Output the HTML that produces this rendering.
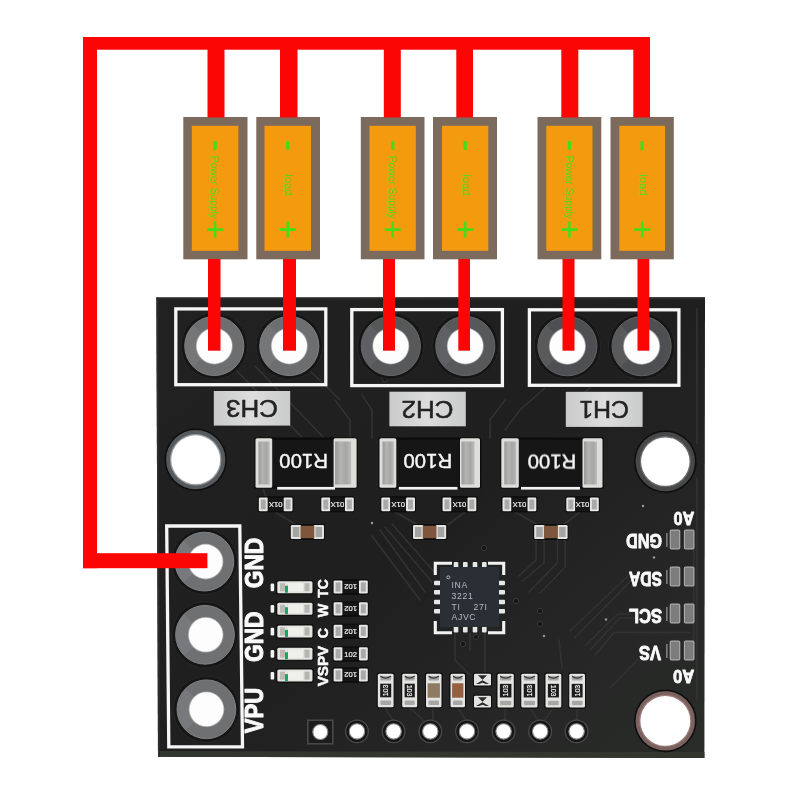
<!DOCTYPE html>
<html lang="en"><head><meta charset="utf-8"><title>INA3221 wiring diagram</title>
<style>html,body{margin:0;padding:0;background:#fff;}body{width:800px;height:800px;overflow:hidden;font-family:"Liberation Sans",sans-serif;}</style>
</head><body>
<svg width="800" height="800" viewBox="0 0 800 800" style="display:block">
<defs>
<linearGradient id="metal" x1="0" y1="0" x2="1" y2="0">
<stop offset="0" stop-color="#9a9a98"/><stop offset="0.35" stop-color="#b4b4b2"/><stop offset="0.7" stop-color="#a6a6a4"/><stop offset="1" stop-color="#bdbdbb"/>
</linearGradient>
<linearGradient id="boardg" x1="0" y1="0" x2="1" y2="1">
<stop offset="0" stop-color="#212121"/><stop offset="0.5" stop-color="#1f1f1f"/><stop offset="1" stop-color="#2a2c2a"/>
</linearGradient>
<linearGradient id="ring" x1="0" y1="0" x2="1" y2="1">
<stop offset="0" stop-color="#6a6c6e"/><stop offset="0.5" stop-color="#737577"/><stop offset="1" stop-color="#66686a"/>
</linearGradient>
<linearGradient id="lab" x1="0" y1="0" x2="1" y2="0">
<stop offset="0" stop-color="#c9cbca"/><stop offset="0.5" stop-color="#dcdddc"/><stop offset="1" stop-color="#cacccb"/>
</linearGradient>
<filter id="soft" x="-5%" y="-5%" width="110%" height="110%"><feGaussianBlur stdDeviation="0.45"/></filter>
<filter id="soft2" x="-5%" y="-5%" width="110%" height="110%"><feGaussianBlur stdDeviation="0.3"/></filter>
</defs>
<rect width="800" height="800" fill="#ffffff"/>
<g id="board">
<path d="M156.4 297.5 L705 297.2 L704.4 758 L158 756.8 Z" fill="url(#boardg)"/>
<path d="M158 751 L704.4 752 L704.4 758 L158 756.8 Z" fill="#33352f"/>
<rect x="156.5" y="297.5" width="548.5" height="2" fill="#2a2a2a"/>
<path d="M156.4 297.5 L158 756.8 L160 756.8 L158.4 297.5 Z" fill="#2c2c2c"/>
</g>
<g id="traces" fill="none" stroke="#323232" stroke-width="1.6" stroke-linecap="round" filter="url(#soft)">
<path d="M232 366 L330 466"/>
<path d="M255 366 L345 460"/>
<path d="M305 366 L340 400"/>
<path d="M335 400 L350 420 L350 438"/>
<path d="M362 395 L372 410 L372 438"/>
<path d="M505 400 L490 420 L490 438"/>
<path d="M545 388 L520 410 L505 430"/>
<path d="M590 388 L575 400"/>
<path d="M697 309 L697 443"/>
<path d="M697 478 L697 700"/>
<path d="M380 530 L425 592"/>
<path d="M385 527 L432 582"/>
<path d="M392 524 L436 574"/>
<path d="M372 536 L420 600"/>
<path d="M536 540 L536 560 L519 576"/>
<path d="M544 540 L544 563 L522.5 581"/>
<path d="M557.5 540 L557.5 562.5 L529 592"/>
<path d="M565 540 L565 567.5 L540 593"/>
<path d="M515 512 L540 526"/>
<path d="M580 512 L562 526"/>
<path d="M395 512 L420 526"/>
<path d="M465 512 L446 526"/>
<path d="M275 512 L298 526"/>
<path d="M263 488 L266 498"/>
<path d="M630 574 L570 631"/>
<path d="M632.5 579 L575 637.5"/>
<path d="M630 614 L617.5 614 L586 645"/>
<path d="M634 618 L620 618 L590 650"/>
<path d="M690 632.5 L614 632.5 L595 655"/>
<path d="M637.5 660 L610 688"/>
<path d="M455 634 L455 660 L470 675"/>
<path d="M470 634 L470 650"/>
<path d="M485 634 L485 672"/>
<path d="M385 708 L393 720"/>
<path d="M410 708 L425 722"/>
<path d="M433 708 L433 720"/>
<path d="M458 708 L466 720"/>
<path d="M505 708 L505 720"/>
<path d="M530 708 L538 720"/>
<path d="M553 708 L545 720"/>
<path d="M577 708 L577 720"/>
<path d="M694 550 L694 567"/>
<path d="M694 586 L694 604"/>
<path d="M694 623 L694 641"/>
<path d="M559 640 L562 668"/>
</g>
<g id="vias" filter="url(#soft2)">
<circle cx="484" cy="548" r="2.6" fill="#151515" stroke="#3a3a3a" stroke-width="1"/>
<circle cx="516" cy="601" r="2.6" fill="#151515" stroke="#3a3a3a" stroke-width="1"/>
<circle cx="540" cy="611" r="2.6" fill="#151515" stroke="#3a3a3a" stroke-width="1"/>
<circle cx="540" cy="624" r="2.6" fill="#151515" stroke="#3a3a3a" stroke-width="1"/>
<circle cx="463" cy="644" r="2.6" fill="#151515" stroke="#3a3a3a" stroke-width="1"/>
<circle cx="476" cy="637" r="2.6" fill="#151515" stroke="#3a3a3a" stroke-width="1"/>
<circle cx="385" cy="379.5" r="2.6" fill="#151515" stroke="#3a3a3a" stroke-width="1"/>
<circle cx="643" cy="506" r="1.2" fill="#9a9a9a"/>
<circle cx="654" cy="557.5" r="1.2" fill="#9a9a9a"/>
<circle cx="606" cy="619.5" r="1.2" fill="#9a9a9a"/>
<circle cx="544" cy="636" r="1.2" fill="#9a9a9a"/>
<circle cx="372" cy="523" r="1.2" fill="#9a9a9a"/>
</g>
<g id="outlines" fill="none" stroke="#f6f6f6" stroke-width="3.3" filter="url(#soft2)">
<rect x="175.8" y="308.9" width="150" height="75.8"/>
<rect x="351.8" y="309.6" width="150.6" height="76"/>
<rect x="529.4" y="309.8" width="149.5" height="75.5"/>
<path d="M166.7 526 L239.8 526 L242.5 746.9 L168.8 746.9 Z"/>
</g>
<g id="pads" filter="url(#soft2)">
<circle cx="214.3" cy="346" r="33.2" fill="#141414" stroke="#2b2b2b" stroke-width="0.8"/>
<circle cx="214.3" cy="346" r="29.6" fill="#6c6e70" stroke="#85878a" stroke-width="0.9"/>
<path d="M193.58 366.72 A29.6 29.6 0 0 1 193.58 325.28 L214.3 346 Z" fill="#77797b" opacity="0.7"/>
<circle cx="214.3" cy="346" r="18.5" fill="#a9abad"/>
<circle cx="214.3" cy="346" r="17.7" fill="#fdfdfd"/>
<circle cx="289.3" cy="346" r="33.2" fill="#141414" stroke="#2b2b2b" stroke-width="0.8"/>
<circle cx="289.3" cy="346" r="29.6" fill="#6c6e70" stroke="#85878a" stroke-width="0.9"/>
<path d="M268.58000000000004 366.72 A29.6 29.6 0 0 1 268.58000000000004 325.28 L289.3 346 Z" fill="#77797b" opacity="0.7"/>
<circle cx="289.3" cy="346" r="18.5" fill="#a9abad"/>
<circle cx="289.3" cy="346" r="17.7" fill="#fdfdfd"/>
<circle cx="390.8" cy="346" r="33.2" fill="#141414" stroke="#2b2b2b" stroke-width="0.8"/>
<circle cx="390.8" cy="346" r="29.6" fill="#56585a" stroke="#6c6e70" stroke-width="0.9"/>
<path d="M370.08000000000004 366.72 A29.6 29.6 0 0 1 370.08000000000004 325.28 L390.8 346 Z" fill="#626466" opacity="0.7"/>
<circle cx="390.8" cy="346" r="18.5" fill="#a9abad"/>
<circle cx="390.8" cy="346" r="17.7" fill="#fdfdfd"/>
<circle cx="465.3" cy="346" r="33.2" fill="#141414" stroke="#2b2b2b" stroke-width="0.8"/>
<circle cx="465.3" cy="346" r="29.6" fill="#56585a" stroke="#6c6e70" stroke-width="0.9"/>
<path d="M444.58000000000004 366.72 A29.6 29.6 0 0 1 444.58000000000004 325.28 L465.3 346 Z" fill="#626466" opacity="0.7"/>
<circle cx="465.3" cy="346" r="18.5" fill="#a9abad"/>
<circle cx="465.3" cy="346" r="17.7" fill="#fdfdfd"/>
<circle cx="567.4" cy="346.2" r="33.2" fill="#141414" stroke="#2b2b2b" stroke-width="0.8"/>
<circle cx="567.4" cy="346.2" r="29.6" fill="#4e5052" stroke="#666869" stroke-width="0.9"/>
<path d="M546.68 366.91999999999996 A29.6 29.6 0 0 1 546.68 325.48 L567.4 346.2 Z" fill="#5c5e60" opacity="0.7"/>
<circle cx="567.4" cy="346.2" r="18.5" fill="#a9abad"/>
<circle cx="567.4" cy="346.2" r="17.7" fill="#fdfdfd"/>
<circle cx="641.6" cy="346.2" r="33.2" fill="#141414" stroke="#2b2b2b" stroke-width="0.8"/>
<circle cx="641.6" cy="346.2" r="29.6" fill="#4e5052" stroke="#666869" stroke-width="0.9"/>
<path d="M620.88 366.91999999999996 A29.6 29.6 0 0 1 620.88 325.48 L641.6 346.2 Z" fill="#5c5e60" opacity="0.7"/>
<circle cx="641.6" cy="346.2" r="18.5" fill="#a9abad"/>
<circle cx="641.6" cy="346.2" r="17.7" fill="#fdfdfd"/>
<circle cx="204.4" cy="561.6" r="33.0" fill="#141414" stroke="#2b2b2b" stroke-width="0.8"/>
<circle cx="204.4" cy="561.6" r="29.4" fill="#6e7072" stroke="#85878a" stroke-width="0.9"/>
<path d="M183.82 582.1800000000001 A29.4 29.4 0 0 1 183.82 541.02 L204.4 561.6 Z" fill="#7b7d7f" opacity="0.7"/>
<circle cx="205.6" cy="561.6" r="17.8" fill="#a9abad"/>
<circle cx="205.6" cy="561.6" r="17" fill="#fdfdfd"/>
<circle cx="205" cy="634.8" r="33.0" fill="#141414" stroke="#2b2b2b" stroke-width="0.8"/>
<circle cx="205" cy="634.8" r="29.4" fill="#6e7072" stroke="#85878a" stroke-width="0.9"/>
<path d="M184.42000000000002 655.38 A29.4 29.4 0 0 1 184.42000000000002 614.2199999999999 L205 634.8 Z" fill="#7b7d7f" opacity="0.7"/>
<circle cx="205.7" cy="634.8" r="17.8" fill="#a9abad"/>
<circle cx="205.7" cy="634.8" r="17" fill="#fdfdfd"/>
<circle cx="206.4" cy="709.3" r="33.0" fill="#141414" stroke="#2b2b2b" stroke-width="0.8"/>
<circle cx="206.4" cy="709.3" r="29.4" fill="#6e7072" stroke="#85878a" stroke-width="0.9"/>
<path d="M185.82 729.88 A29.4 29.4 0 0 1 185.82 688.7199999999999 L206.4 709.3 Z" fill="#7b7d7f" opacity="0.7"/>
<circle cx="206.5" cy="709.3" r="17.8" fill="#a9abad"/>
<circle cx="206.5" cy="709.3" r="17" fill="#fdfdfd"/>
</g>
<g id="mholes" filter="url(#soft2)">
<circle cx="195.7" cy="459.7" r="31.200000000000003" fill="#111111"/>
<circle cx="195.7" cy="459.7" r="29.6" fill="#565a5d"/>
<circle cx="195.7" cy="459.7" r="25.7" fill="#9a9da0"/>
<circle cx="195.7" cy="459.7" r="24.4" fill="#ffffff"/>
<circle cx="665.3" cy="461.6" r="31.3" fill="#111111"/>
<circle cx="665.3" cy="461.6" r="29.7" fill="#46484a"/>
<circle cx="665.3" cy="461.6" r="25.5" fill="#6c6e70"/>
<circle cx="665.3" cy="461.6" r="24.2" fill="#ffffff"/>
<circle cx="665.3" cy="720.9" r="31.3" fill="#111111"/>
<circle cx="665.3" cy="720.9" r="29.7" fill="#7b625e"/>
<circle cx="665.3" cy="720.9" r="26.2" fill="#9a7c78"/>
<circle cx="665.3" cy="720.9" r="24.9" fill="#ffffff"/>
</g>
<g id="chlabels" font-family="'Liberation Sans', sans-serif" font-size="23.6" fill="#222222" text-anchor="middle" filter="url(#soft2)">
<rect x="213.8" y="391" width="76.39999999999998" height="34.60000000000002" fill="url(#lab)"/>
<text transform="translate(252.0 408.3) rotate(180)" x="0" y="8.45" textLength="52" lengthAdjust="spacingAndGlyphs" stroke="#222222" stroke-width="0.5">CH3</text>
<rect x="389.4" y="391.7" width="76.40000000000003" height="34.60000000000002" fill="url(#lab)"/>
<text transform="translate(427.6 409.0) rotate(180)" x="0" y="8.45" textLength="52" lengthAdjust="spacingAndGlyphs" stroke="#222222" stroke-width="0.5">CH2</text>
<rect x="565.8" y="391.8" width="76.80000000000007" height="35.099999999999966" fill="url(#lab)"/>
<text transform="translate(604.2 409.35) rotate(180)" x="0" y="8.45" textLength="49.6" lengthAdjust="spacingAndGlyphs" stroke="#222222" stroke-width="0.5">CH1</text>
</g>
<g id="r100" filter="url(#soft2)">
<rect x="254.3" y="437.2" width="103.50000000000003" height="51.6" rx="2" fill="#0e0e0e"/>
<rect x="271.2" y="440" width="63.400000000000034" height="45.6" fill="#181818"/>
<rect x="255.5" y="438.2" width="16.69999999999999" height="49.6" rx="1.6" fill="#dededb"/>
<rect x="258.5" y="441.5" width="11.199999999999989" height="43" fill="url(#metal)"/>
<rect x="333.6" y="438.2" width="23.0" height="49.6" rx="1.6" fill="#dededb"/>
<rect x="335.1" y="441.5" width="16.0" height="43" fill="url(#metal)"/>
<rect x="277.2" y="486.9" width="57.80000000000001" height="2.7" fill="#f4f4f4"/>
<text transform="translate(303.6 461.3) rotate(180)" x="0" y="7.6" text-anchor="middle" font-family="'Liberation Sans', sans-serif" font-size="20.4" fill="#f6f6f6" stroke="#f6f6f6" stroke-width="0.4">R100</text>
<rect x="378.3" y="437.2" width="102.9" height="51.6" rx="2" fill="#0e0e0e"/>
<rect x="395.3" y="440" width="65.69999999999999" height="45.6" fill="#181818"/>
<rect x="379.5" y="438.2" width="16.80000000000001" height="49.6" rx="1.6" fill="#dededb"/>
<rect x="382.5" y="441.5" width="11.300000000000011" height="43" fill="url(#metal)"/>
<rect x="460" y="438.2" width="20" height="49.6" rx="1.6" fill="#dededb"/>
<rect x="461.5" y="441.5" width="13" height="43" fill="url(#metal)"/>
<rect x="398.8" y="486.9" width="58.69999999999999" height="2.7" fill="#f4f4f4"/>
<text transform="translate(427.8 461.5) rotate(180)" x="0" y="7.6" text-anchor="middle" font-family="'Liberation Sans', sans-serif" font-size="20.4" fill="#f6f6f6" stroke="#f6f6f6" stroke-width="0.4">R100</text>
<rect x="500.1" y="437.2" width="103.6" height="51.6" rx="2" fill="#0e0e0e"/>
<rect x="517.8" y="440" width="65.70000000000005" height="45.6" fill="#181818"/>
<rect x="501.3" y="438.2" width="17.499999999999943" height="49.6" rx="1.6" fill="#dededb"/>
<rect x="504.3" y="441.5" width="11.999999999999943" height="43" fill="url(#metal)"/>
<rect x="582.5" y="438.2" width="20.0" height="49.6" rx="1.6" fill="#dededb"/>
<rect x="584.0" y="441.5" width="13.0" height="43" fill="url(#metal)"/>
<rect x="521" y="486.9" width="59" height="2.7" fill="#f4f4f4"/>
<text transform="translate(552 462.6) rotate(180)" x="0" y="7.6" text-anchor="middle" font-family="'Liberation Sans', sans-serif" font-size="20.4" fill="#f6f6f6" stroke="#f6f6f6" stroke-width="0.4">R100</text>
</g>
<g id="smallres" filter="url(#soft2)">
<rect x="257.8" y="496.5" width="35.69999999999999" height="15.800000000000011" rx="1.5" fill="#0c0c0c"/>
<rect x="258.8" y="497.5" width="9" height="13.800000000000011" rx="1.3" fill="#e6e6e4"/>
<rect x="260.8" y="499.5" width="5" height="9.800000000000011" fill="#a9a9a7"/>
<rect x="283.5" y="497.5" width="9" height="13.800000000000011" rx="1.3" fill="#e6e6e4"/>
<rect x="285.5" y="499.5" width="5" height="9.800000000000011" fill="#a9a9a7"/>
<rect x="267.8" y="498.3" width="15.699999999999989" height="12.200000000000012" fill="#191919"/>
<text transform="translate(275.65 504.4) rotate(180)" x="0" y="2.7359999999999998" text-anchor="middle" font-family="'Liberation Sans', sans-serif" font-size="7.6" fill="#f0f0f0" stroke="#f0f0f0" stroke-width="0.2">01X</text>
<rect x="320.3" y="496.5" width="34.5" height="15.800000000000011" rx="1.5" fill="#0c0c0c"/>
<rect x="321.3" y="497.5" width="9" height="13.800000000000011" rx="1.3" fill="#e6e6e4"/>
<rect x="323.3" y="499.5" width="5" height="9.800000000000011" fill="#a9a9a7"/>
<rect x="344.8" y="497.5" width="9" height="13.800000000000011" rx="1.3" fill="#e6e6e4"/>
<rect x="346.8" y="499.5" width="5" height="9.800000000000011" fill="#a9a9a7"/>
<rect x="330.3" y="498.3" width="14.5" height="12.200000000000012" fill="#191919"/>
<text transform="translate(337.55 504.4) rotate(180)" x="0" y="2.7359999999999998" text-anchor="middle" font-family="'Liberation Sans', sans-serif" font-size="7.6" fill="#f0f0f0" stroke="#f0f0f0" stroke-width="0.2">01X</text>
<rect x="380.3" y="496.5" width="35.69999999999999" height="15.800000000000011" rx="1.5" fill="#0c0c0c"/>
<rect x="381.3" y="497.5" width="9" height="13.800000000000011" rx="1.3" fill="#e6e6e4"/>
<rect x="383.3" y="499.5" width="5" height="9.800000000000011" fill="#a9a9a7"/>
<rect x="406" y="497.5" width="9" height="13.800000000000011" rx="1.3" fill="#e6e6e4"/>
<rect x="408" y="499.5" width="5" height="9.800000000000011" fill="#a9a9a7"/>
<rect x="390.3" y="498.3" width="15.699999999999989" height="12.200000000000012" fill="#191919"/>
<text transform="translate(398.15 504.4) rotate(180)" x="0" y="2.7359999999999998" text-anchor="middle" font-family="'Liberation Sans', sans-serif" font-size="7.6" fill="#f0f0f0" stroke="#f0f0f0" stroke-width="0.2">01X</text>
<rect x="441.5" y="496.5" width="35.80000000000001" height="15.800000000000011" rx="1.5" fill="#0c0c0c"/>
<rect x="442.5" y="497.5" width="9" height="13.800000000000011" rx="1.3" fill="#e6e6e4"/>
<rect x="444.5" y="499.5" width="5" height="9.800000000000011" fill="#a9a9a7"/>
<rect x="467.3" y="497.5" width="9" height="13.800000000000011" rx="1.3" fill="#e6e6e4"/>
<rect x="469.3" y="499.5" width="5" height="9.800000000000011" fill="#a9a9a7"/>
<rect x="451.5" y="498.3" width="15.800000000000011" height="12.200000000000012" fill="#191919"/>
<text transform="translate(459.4 504.4) rotate(180)" x="0" y="2.7359999999999998" text-anchor="middle" font-family="'Liberation Sans', sans-serif" font-size="7.6" fill="#f0f0f0" stroke="#f0f0f0" stroke-width="0.2">01X</text>
<rect x="501.5" y="496.5" width="35.799999999999955" height="15.800000000000011" rx="1.5" fill="#0c0c0c"/>
<rect x="502.5" y="497.5" width="9" height="13.800000000000011" rx="1.3" fill="#e6e6e4"/>
<rect x="504.5" y="499.5" width="5" height="9.800000000000011" fill="#a9a9a7"/>
<rect x="527.3" y="497.5" width="9" height="13.800000000000011" rx="1.3" fill="#e6e6e4"/>
<rect x="529.3" y="499.5" width="5" height="9.800000000000011" fill="#a9a9a7"/>
<rect x="511.5" y="498.3" width="15.799999999999955" height="12.200000000000012" fill="#191919"/>
<text transform="translate(519.4 504.4) rotate(180)" x="0" y="2.7359999999999998" text-anchor="middle" font-family="'Liberation Sans', sans-serif" font-size="7.6" fill="#f0f0f0" stroke="#f0f0f0" stroke-width="0.2">01X</text>
<rect x="565.3" y="496.5" width="34.5" height="15.800000000000011" rx="1.5" fill="#0c0c0c"/>
<rect x="566.3" y="497.5" width="9" height="13.800000000000011" rx="1.3" fill="#e6e6e4"/>
<rect x="568.3" y="499.5" width="5" height="9.800000000000011" fill="#a9a9a7"/>
<rect x="589.8" y="497.5" width="9" height="13.800000000000011" rx="1.3" fill="#e6e6e4"/>
<rect x="591.8" y="499.5" width="5" height="9.800000000000011" fill="#a9a9a7"/>
<rect x="575.3" y="498.3" width="14.5" height="12.200000000000012" fill="#191919"/>
<text transform="translate(582.55 504.4) rotate(180)" x="0" y="2.7359999999999998" text-anchor="middle" font-family="'Liberation Sans', sans-serif" font-size="7.6" fill="#f0f0f0" stroke="#f0f0f0" stroke-width="0.2">01X</text>
<rect x="332.6" y="579.4" width="36.19999999999999" height="15.200000000000045" rx="1.5" fill="#0c0c0c"/>
<rect x="333.6" y="580.4" width="9" height="13.200000000000045" rx="1.3" fill="#e6e6e4"/>
<rect x="335.6" y="582.4" width="5" height="9.200000000000045" fill="#a9a9a7"/>
<rect x="358.8" y="580.4" width="9" height="13.200000000000045" rx="1.3" fill="#e6e6e4"/>
<rect x="360.8" y="582.4" width="5" height="9.200000000000045" fill="#a9a9a7"/>
<rect x="342.6" y="581.1999999999999" width="16.19999999999999" height="11.600000000000046" fill="#191919"/>
<text transform="translate(350.70000000000005 587.0) rotate(180)" x="0" y="2.7359999999999998" text-anchor="middle" font-family="'Liberation Sans', sans-serif" font-size="7.6" fill="#f0f0f0" stroke="#f0f0f0" stroke-width="0.2">102</text>
<rect x="332.6" y="601.1999999999999" width="36.19999999999999" height="15.200000000000045" rx="1.5" fill="#0c0c0c"/>
<rect x="333.6" y="602.1999999999999" width="9" height="13.200000000000045" rx="1.3" fill="#e6e6e4"/>
<rect x="335.6" y="604.1999999999999" width="5" height="9.200000000000045" fill="#a9a9a7"/>
<rect x="358.8" y="602.1999999999999" width="9" height="13.200000000000045" rx="1.3" fill="#e6e6e4"/>
<rect x="360.8" y="604.1999999999999" width="5" height="9.200000000000045" fill="#a9a9a7"/>
<rect x="342.6" y="602.9999999999999" width="16.19999999999999" height="11.600000000000046" fill="#191919"/>
<text transform="translate(350.70000000000005 608.8) rotate(180)" x="0" y="2.7359999999999998" text-anchor="middle" font-family="'Liberation Sans', sans-serif" font-size="7.6" fill="#f0f0f0" stroke="#f0f0f0" stroke-width="0.2">102</text>
<rect x="332.6" y="623.6999999999999" width="36.19999999999999" height="15.200000000000045" rx="1.5" fill="#0c0c0c"/>
<rect x="333.6" y="624.6999999999999" width="9" height="13.200000000000045" rx="1.3" fill="#e6e6e4"/>
<rect x="335.6" y="626.6999999999999" width="5" height="9.200000000000045" fill="#a9a9a7"/>
<rect x="358.8" y="624.6999999999999" width="9" height="13.200000000000045" rx="1.3" fill="#e6e6e4"/>
<rect x="360.8" y="626.6999999999999" width="5" height="9.200000000000045" fill="#a9a9a7"/>
<rect x="342.6" y="625.4999999999999" width="16.19999999999999" height="11.600000000000046" fill="#191919"/>
<text transform="translate(350.70000000000005 631.3) rotate(180)" x="0" y="2.7359999999999998" text-anchor="middle" font-family="'Liberation Sans', sans-serif" font-size="7.6" fill="#f0f0f0" stroke="#f0f0f0" stroke-width="0.2">102</text>
<rect x="332.6" y="646.1999999999999" width="36.19999999999999" height="15.200000000000045" rx="1.5" fill="#0c0c0c"/>
<rect x="333.6" y="647.1999999999999" width="9" height="13.200000000000045" rx="1.3" fill="#e6e6e4"/>
<rect x="335.6" y="649.1999999999999" width="5" height="9.200000000000045" fill="#a9a9a7"/>
<rect x="358.8" y="647.1999999999999" width="9" height="13.200000000000045" rx="1.3" fill="#e6e6e4"/>
<rect x="360.8" y="649.1999999999999" width="5" height="9.200000000000045" fill="#a9a9a7"/>
<rect x="342.6" y="647.9999999999999" width="16.19999999999999" height="11.600000000000046" fill="#191919"/>
<text transform="translate(350.70000000000005 653.8) rotate(0)" x="0" y="2.7359999999999998" text-anchor="middle" font-family="'Liberation Sans', sans-serif" font-size="7.6" fill="#f0f0f0" stroke="#f0f0f0" stroke-width="0.2">102</text>
<rect x="332.6" y="667.4" width="36.19999999999999" height="15.200000000000045" rx="1.5" fill="#0c0c0c"/>
<rect x="333.6" y="668.4" width="9" height="13.200000000000045" rx="1.3" fill="#e6e6e4"/>
<rect x="335.6" y="670.4" width="5" height="9.200000000000045" fill="#a9a9a7"/>
<rect x="358.8" y="668.4" width="9" height="13.200000000000045" rx="1.3" fill="#e6e6e4"/>
<rect x="360.8" y="670.4" width="5" height="9.200000000000045" fill="#a9a9a7"/>
<rect x="342.6" y="669.1999999999999" width="16.19999999999999" height="11.600000000000046" fill="#191919"/>
<text transform="translate(350.70000000000005 675.0) rotate(180)" x="0" y="2.7359999999999998" text-anchor="middle" font-family="'Liberation Sans', sans-serif" font-size="7.6" fill="#f0f0f0" stroke="#f0f0f0" stroke-width="0.2">102</text>
</g>
<g id="caps" filter="url(#soft2)">
<rect x="289.8" y="524" width="35.19999999999999" height="16" rx="1.5" fill="#0c0c0c"/>
<rect x="290.8" y="525" width="10.5" height="14" rx="1.3" fill="#e2e2e0"/>
<rect x="292.8" y="527" width="6.5" height="10" fill="#a4a4a2"/>
<rect x="313.5" y="525" width="10.5" height="14" rx="1.3" fill="#e2e2e0"/>
<rect x="315.5" y="527" width="6.5" height="10" fill="#a4a4a2"/>
<rect x="300.5" y="525.8" width="13.799999999999988" height="12.4" fill="#7d563e"/>
<rect x="412" y="524" width="35.19999999999999" height="16" rx="1.5" fill="#0c0c0c"/>
<rect x="413" y="525" width="10.5" height="14" rx="1.3" fill="#e2e2e0"/>
<rect x="415" y="527" width="6.5" height="10" fill="#a4a4a2"/>
<rect x="435.7" y="525" width="10.5" height="14" rx="1.3" fill="#e2e2e0"/>
<rect x="437.7" y="527" width="6.5" height="10" fill="#a4a4a2"/>
<rect x="422.7" y="525.8" width="13.799999999999988" height="12.4" fill="#7d563e"/>
<rect x="533.2" y="524" width="35.39999999999998" height="16" rx="1.5" fill="#0c0c0c"/>
<rect x="534.2" y="525" width="10.5" height="14" rx="1.3" fill="#e2e2e0"/>
<rect x="536.2" y="527" width="6.5" height="10" fill="#a4a4a2"/>
<rect x="557.1" y="525" width="10.5" height="14" rx="1.3" fill="#e2e2e0"/>
<rect x="559.1" y="527" width="6.5" height="10" fill="#a4a4a2"/>
<rect x="543.9000000000001" y="525.8" width="13.999999999999977" height="12.4" fill="#7d563e"/>
</g>
<g id="vres" filter="url(#soft2)">
<rect x="376.8" y="672.8" width="17.80000000000001" height="35.40000000000009" rx="1.8" fill="#0c0c0c"/>
<rect x="377.8" y="673.8" width="15.800000000000011" height="33.40000000000009" rx="1.5" fill="#e4e4e2"/>
<rect x="380.3" y="676.0" width="10.800000000000011" height="4.6" rx="1" fill="#a6a6a4"/>
<rect x="380.3" y="700.4000000000001" width="10.800000000000011" height="4.6" rx="1" fill="#a6a6a4"/>
<path d="M380.3 676.0 Q385.70000000000005 680.3 391.1 676.0" fill="none" stroke="#3a3a3a" stroke-width="1.1"/>
<rect x="380.2" y="683.7" width="11.00000000000001" height="13.6" fill="#1b1b1b"/>
<text transform="translate(385.70000000000005 690.5) rotate(-90)" x="0" y="2.5" text-anchor="middle" font-family="'Liberation Sans', sans-serif" font-size="7" fill="#f0f0f0" stroke="#f0f0f0" stroke-width="0.2">103</text>
<rect x="401.2" y="672.8" width="17.0" height="35.40000000000009" rx="1.8" fill="#0c0c0c"/>
<rect x="402.2" y="673.8" width="15.0" height="33.40000000000009" rx="1.5" fill="#e4e4e2"/>
<rect x="404.7" y="676.0" width="10.0" height="4.6" rx="1" fill="#a6a6a4"/>
<rect x="404.7" y="700.4000000000001" width="10.0" height="4.6" rx="1" fill="#a6a6a4"/>
<path d="M404.7 676.0 Q409.7 680.3 414.7 676.0" fill="none" stroke="#3a3a3a" stroke-width="1.1"/>
<rect x="404.59999999999997" y="683.7" width="10.2" height="13.6" fill="#1b1b1b"/>
<text transform="translate(409.7 690.5) rotate(90)" x="0" y="2.5" text-anchor="middle" font-family="'Liberation Sans', sans-serif" font-size="7" fill="#f0f0f0" stroke="#f0f0f0" stroke-width="0.2">103</text>
<rect x="425" y="672.8" width="17.5" height="35.40000000000009" rx="1.8" fill="#0c0c0c"/>
<rect x="426" y="673.8" width="15.5" height="33.40000000000009" rx="1.5" fill="#e4e4e2"/>
<rect x="428.5" y="676.0" width="10.5" height="4.6" rx="1" fill="#a6a6a4"/>
<rect x="428.5" y="700.4000000000001" width="10.5" height="4.6" rx="1" fill="#a6a6a4"/>
<path d="M428.5 676.0 Q433.75 680.3 439.0 676.0" fill="none" stroke="#3a3a3a" stroke-width="1.1"/>
<rect x="427.6" y="683.3" width="12.3" height="14.4" fill="#8f7a62"/>
<rect x="449.5" y="672.8" width="16.5" height="35.40000000000009" rx="1.8" fill="#0c0c0c"/>
<rect x="450.5" y="673.8" width="14.5" height="33.40000000000009" rx="1.5" fill="#e4e4e2"/>
<rect x="453.0" y="676.0" width="9.5" height="4.6" rx="1" fill="#a6a6a4"/>
<rect x="453.0" y="700.4000000000001" width="9.5" height="4.6" rx="1" fill="#a6a6a4"/>
<path d="M453.0 676.0 Q457.75 680.3 462.5 676.0" fill="none" stroke="#3a3a3a" stroke-width="1.1"/>
<rect x="452.1" y="683.3" width="11.3" height="14.4" fill="#94603f"/>
<rect x="496.5" y="672.8" width="18.299999999999955" height="35.700000000000045" rx="1.8" fill="#0c0c0c"/>
<rect x="497.5" y="673.8" width="16.299999999999955" height="33.700000000000045" rx="1.5" fill="#e4e4e2"/>
<rect x="500.0" y="676.0" width="11.299999999999955" height="4.6" rx="1" fill="#a6a6a4"/>
<rect x="500.0" y="700.7" width="11.299999999999955" height="4.6" rx="1" fill="#a6a6a4"/>
<path d="M500.0 676.0 Q505.65 680.3 511.29999999999995 676.0" fill="none" stroke="#3a3a3a" stroke-width="1.1"/>
<rect x="499.9" y="683.85" width="11.499999999999954" height="13.6" fill="#1b1b1b"/>
<text transform="translate(505.65 690.65) rotate(-90)" x="0" y="2.5" text-anchor="middle" font-family="'Liberation Sans', sans-serif" font-size="7" fill="#f0f0f0" stroke="#f0f0f0" stroke-width="0.2">103</text>
<rect x="520.3" y="672.8" width="18.200000000000045" height="35.700000000000045" rx="1.8" fill="#0c0c0c"/>
<rect x="521.3" y="673.8" width="16.200000000000045" height="33.700000000000045" rx="1.5" fill="#e4e4e2"/>
<rect x="523.8" y="676.0" width="11.200000000000045" height="4.6" rx="1" fill="#a6a6a4"/>
<rect x="523.8" y="700.7" width="11.200000000000045" height="4.6" rx="1" fill="#a6a6a4"/>
<path d="M523.8 676.0 Q529.4 680.3 535.0 676.0" fill="none" stroke="#3a3a3a" stroke-width="1.1"/>
<rect x="523.6999999999999" y="683.85" width="11.400000000000045" height="13.6" fill="#1b1b1b"/>
<text transform="translate(529.4 690.65) rotate(-90)" x="0" y="2.5" text-anchor="middle" font-family="'Liberation Sans', sans-serif" font-size="7" fill="#f0f0f0" stroke="#f0f0f0" stroke-width="0.2">103</text>
<rect x="544.5" y="672.8" width="17.799999999999955" height="35.700000000000045" rx="1.8" fill="#0c0c0c"/>
<rect x="545.5" y="673.8" width="15.799999999999955" height="33.700000000000045" rx="1.5" fill="#e4e4e2"/>
<rect x="548.0" y="676.0" width="10.799999999999955" height="4.6" rx="1" fill="#a6a6a4"/>
<rect x="548.0" y="700.7" width="10.799999999999955" height="4.6" rx="1" fill="#a6a6a4"/>
<path d="M548.0 676.0 Q553.4 680.3 558.8 676.0" fill="none" stroke="#3a3a3a" stroke-width="1.1"/>
<rect x="547.9" y="683.85" width="10.999999999999954" height="13.6" fill="#1b1b1b"/>
<text transform="translate(553.4 690.65) rotate(90)" x="0" y="2.5" text-anchor="middle" font-family="'Liberation Sans', sans-serif" font-size="7" fill="#f0f0f0" stroke="#f0f0f0" stroke-width="0.2">103</text>
<rect x="568.3" y="672.8" width="17.700000000000045" height="35.700000000000045" rx="1.8" fill="#0c0c0c"/>
<rect x="569.3" y="673.8" width="15.700000000000045" height="33.700000000000045" rx="1.5" fill="#e4e4e2"/>
<rect x="571.8" y="676.0" width="10.700000000000045" height="4.6" rx="1" fill="#a6a6a4"/>
<rect x="571.8" y="700.7" width="10.700000000000045" height="4.6" rx="1" fill="#a6a6a4"/>
<path d="M571.8 676.0 Q577.15 680.3 582.5 676.0" fill="none" stroke="#3a3a3a" stroke-width="1.1"/>
<rect x="571.6999999999999" y="683.85" width="10.900000000000045" height="13.6" fill="#1b1b1b"/>
<text transform="translate(577.15 690.65) rotate(-90)" x="0" y="2.5" text-anchor="middle" font-family="'Liberation Sans', sans-serif" font-size="7" fill="#f0f0f0" stroke="#f0f0f0" stroke-width="0.2">103</text>
<rect x="473" y="672.8" width="19" height="13.600000000000023" rx="1.5" fill="#0c0c0c"/>
<rect x="474" y="673.8" width="17" height="11.600000000000023" rx="1.2" fill="#e2e2e0"/>
<path d="M478 675.3 L487 675.3 L482.5 679.8 Z M476 683.9 L482.5 680.3 L489 683.9 L486 683.9 L482.5 682.8 L479 683.9 Z" fill="#2a2a2a"/>
<rect x="473" y="694.8" width="19" height="13.600000000000023" rx="1.5" fill="#0c0c0c"/>
<rect x="474" y="695.8" width="17" height="11.600000000000023" rx="1.2" fill="#e2e2e0"/>
<path d="M478 697.3 L487 697.3 L482.5 701.8 Z M476 705.9 L482.5 702.3 L489 705.9 L486 705.9 L482.5 704.8 L479 705.9 Z" fill="#2a2a2a"/>
</g>
<g id="leds" filter="url(#soft2)">
<rect x="276.2" y="580.2" width="37.3" height="14" rx="2" fill="#0c0c0c"/>
<rect x="277.3" y="581.2" width="35.2" height="12" rx="1.5" fill="#e3e3df"/>
<rect x="280" y="583.2" width="5" height="8" fill="#b9b9b5"/>
<rect x="288" y="583.0" width="15" height="8.4" fill="#f0f0ea"/>
<rect x="304.5" y="583.2" width="5" height="8" fill="#b4b4b0"/>
<rect x="285" y="585.7" width="3" height="7" fill="#18a862"/>
<rect x="270.6" y="583.6" width="3.6" height="7.6" rx="1.2" fill="#f4f4f4"/>
<rect x="276.2" y="601.7" width="37.3" height="14" rx="2" fill="#0c0c0c"/>
<rect x="277.3" y="602.7" width="35.2" height="12" rx="1.5" fill="#e3e3df"/>
<rect x="280" y="604.7" width="5" height="8" fill="#b9b9b5"/>
<rect x="288" y="604.5" width="15" height="8.4" fill="#f0f0ea"/>
<rect x="304.5" y="604.7" width="5" height="8" fill="#b4b4b0"/>
<rect x="285" y="607.2" width="3" height="7" fill="#18a862"/>
<rect x="270.6" y="605.1" width="3.6" height="7.6" rx="1.2" fill="#f4f4f4"/>
<rect x="276.2" y="624.4" width="37.3" height="14" rx="2" fill="#0c0c0c"/>
<rect x="277.3" y="625.4" width="35.2" height="12" rx="1.5" fill="#e3e3df"/>
<rect x="280" y="627.4" width="5" height="8" fill="#b9b9b5"/>
<rect x="288" y="627.1999999999999" width="15" height="8.4" fill="#f0f0ea"/>
<rect x="304.5" y="627.4" width="5" height="8" fill="#b4b4b0"/>
<rect x="285" y="629.9" width="3" height="7" fill="#18a862"/>
<rect x="270.6" y="627.8" width="3.6" height="7.6" rx="1.2" fill="#f4f4f4"/>
<rect x="276.2" y="646.7" width="37.3" height="14" rx="2" fill="#0c0c0c"/>
<rect x="277.3" y="647.7" width="35.2" height="12" rx="1.5" fill="#e3e3df"/>
<rect x="280" y="649.7" width="5" height="8" fill="#b9b9b5"/>
<rect x="288" y="649.5" width="15" height="8.4" fill="#f0f0ea"/>
<rect x="304.5" y="649.7" width="5" height="8" fill="#b4b4b0"/>
<rect x="285" y="652.2" width="3" height="7" fill="#18a862"/>
<rect x="270.6" y="650.1" width="3.6" height="7.6" rx="1.2" fill="#f4f4f4"/>
<rect x="276.2" y="668.6" width="37.3" height="14" rx="2" fill="#0c0c0c"/>
<rect x="277.3" y="669.6" width="35.2" height="12" rx="1.5" fill="#e3e3df"/>
<rect x="280" y="671.6" width="5" height="8" fill="#b9b9b5"/>
<rect x="288" y="671.4" width="15" height="8.4" fill="#f0f0ea"/>
<rect x="304.5" y="671.6" width="5" height="8" fill="#b4b4b0"/>
<rect x="285" y="674.1" width="3" height="7" fill="#18a862"/>
<rect x="270.6" y="672.0" width="3.6" height="7.6" rx="1.2" fill="#f4f4f4"/>
</g>
<g id="ic" filter="url(#soft2)">
<path d="M435.3 575 V563.3 H452 M488 563.3 H503.7 V575 M503.7 621 V632.7 H488 M452 632.7 H435.3 V621" fill="none" stroke="#f2f2f2" stroke-width="3.1"/>
<rect x="453.7" y="562" width="4.6" height="6" rx="1" fill="#e6e6e6"/>
<rect x="453.7" y="626.5" width="4.6" height="6" rx="1" fill="#e6e6e6"/>
<rect x="463.0" y="562" width="4.6" height="6" rx="1" fill="#e6e6e6"/>
<rect x="463.0" y="626.5" width="4.6" height="6" rx="1" fill="#e6e6e6"/>
<rect x="472.7" y="562" width="4.6" height="6" rx="1" fill="#e6e6e6"/>
<rect x="472.7" y="626.5" width="4.6" height="6" rx="1" fill="#e6e6e6"/>
<rect x="482.0" y="562" width="4.6" height="6" rx="1" fill="#e6e6e6"/>
<rect x="482.0" y="626.5" width="4.6" height="6" rx="1" fill="#e6e6e6"/>
<rect x="434" y="580.7" width="6.5" height="4.6" rx="1" fill="#e6e6e6"/>
<rect x="498.5" y="580.7" width="6.5" height="4.6" rx="1" fill="#e6e6e6"/>
<rect x="434" y="590.0" width="6.5" height="4.6" rx="1" fill="#e6e6e6"/>
<rect x="498.5" y="590.0" width="6.5" height="4.6" rx="1" fill="#e6e6e6"/>
<rect x="434" y="599.7" width="6.5" height="4.6" rx="1" fill="#e6e6e6"/>
<rect x="498.5" y="599.7" width="6.5" height="4.6" rx="1" fill="#e6e6e6"/>
<rect x="434" y="609.0" width="6.5" height="4.6" rx="1" fill="#e6e6e6"/>
<rect x="498.5" y="609.0" width="6.5" height="4.6" rx="1" fill="#e6e6e6"/>
<rect x="440" y="567" width="59" height="60" fill="#2b2e34"/>
<circle cx="448.3" cy="577.3" r="1.5" fill="none" stroke="#b9c0c6" stroke-width="0.9"/>
<g font-family="'Liberation Sans', sans-serif" font-size="8.6" fill="#b4bcc4" letter-spacing="0.7">
<text x="451.5" y="588.3">INA</text><text x="451.5" y="599">3221</text><text x="451.5" y="609.5">TI</text><text x="473.5" y="609.5">27I</text><text x="451.5" y="620">AJVC</text>
</g></g>
<g id="bholes" filter="url(#soft2)">
<rect x="307.8" y="720.3" width="25" height="23.4" fill="#1a1a1a" stroke="#4a4a4a" stroke-width="1.6"/>
<circle cx="320.3" cy="732" r="7.5" fill="#fff" stroke="#8a8a8a" stroke-width="1.1"/>
<circle cx="357" cy="731.4" r="11.3" fill="#141414" stroke="#4c4c4c" stroke-width="1.3"/>
<circle cx="357" cy="731.4" r="7.7" fill="#fff" stroke="#8c8c8c" stroke-width="1.1"/>
<circle cx="393.6" cy="731.4" r="11.3" fill="#141414" stroke="#4c4c4c" stroke-width="1.3"/>
<circle cx="393.6" cy="731.4" r="7.7" fill="#fff" stroke="#8c8c8c" stroke-width="1.1"/>
<circle cx="430.3" cy="731.4" r="11.3" fill="#141414" stroke="#4c4c4c" stroke-width="1.3"/>
<circle cx="430.3" cy="731.4" r="7.7" fill="#fff" stroke="#8c8c8c" stroke-width="1.1"/>
<circle cx="467" cy="731.4" r="11.3" fill="#141414" stroke="#4c4c4c" stroke-width="1.3"/>
<circle cx="467" cy="731.4" r="7.7" fill="#fff" stroke="#8c8c8c" stroke-width="1.1"/>
<circle cx="503.6" cy="731.4" r="11.3" fill="#141414" stroke="#4c4c4c" stroke-width="1.3"/>
<circle cx="503.6" cy="731.4" r="7.7" fill="#fff" stroke="#8c8c8c" stroke-width="1.1"/>
<circle cx="540.2" cy="731.4" r="11.3" fill="#141414" stroke="#4c4c4c" stroke-width="1.3"/>
<circle cx="540.2" cy="731.4" r="7.7" fill="#fff" stroke="#8c8c8c" stroke-width="1.1"/>
<circle cx="576.6" cy="731.4" r="11.3" fill="#141414" stroke="#4c4c4c" stroke-width="1.3"/>
<circle cx="576.6" cy="731.4" r="7.7" fill="#fff" stroke="#8c8c8c" stroke-width="1.1"/>
</g>
<g id="jumpers" filter="url(#soft2)">
<rect x="670.2" y="530" width="9.6" height="19" rx="1" fill="#7b7b7b" stroke="#cfcfcf" stroke-width="0.8"/>
<rect x="684.4" y="530" width="9.6" height="19" rx="1" fill="#7b7b7b" stroke="#cfcfcf" stroke-width="0.8"/>
<rect x="666.3" y="533" width="1.2" height="14" fill="#9c9c9c"/>
<rect x="670.2" y="567" width="9.6" height="19" rx="1" fill="#7b7b7b" stroke="#cfcfcf" stroke-width="0.8"/>
<rect x="684.4" y="567" width="9.6" height="19" rx="1" fill="#7b7b7b" stroke="#cfcfcf" stroke-width="0.8"/>
<rect x="666.3" y="570" width="1.2" height="14" fill="#9c9c9c"/>
<rect x="670.2" y="604" width="9.6" height="19" rx="1" fill="#7b7b7b" stroke="#cfcfcf" stroke-width="0.8"/>
<rect x="684.4" y="604" width="9.6" height="19" rx="1" fill="#7b7b7b" stroke="#cfcfcf" stroke-width="0.8"/>
<rect x="666.3" y="607" width="1.2" height="14" fill="#9c9c9c"/>
<rect x="670.2" y="641" width="9.6" height="19" rx="1" fill="#7b7b7b" stroke="#cfcfcf" stroke-width="0.8"/>
<rect x="684.4" y="641" width="9.6" height="19" rx="1" fill="#7b7b7b" stroke="#cfcfcf" stroke-width="0.8"/>
<rect x="666.3" y="644" width="1.2" height="14" fill="#9c9c9c"/>
</g>
<g id="silk" font-family="'Liberation Sans', sans-serif" font-weight="bold" fill="#fafafa" stroke="#fafafa" stroke-width="0.55" stroke-linejoin="round" filter="url(#soft2)">
<text transform="translate(263.3 563) rotate(-90)" x="0" y="0" text-anchor="middle" font-size="25.3" textLength="50.5" lengthAdjust="spacingAndGlyphs" stroke-width="1.0">GND</text>
<text transform="translate(263.3 636.8) rotate(-90)" x="0" y="0" text-anchor="middle" font-size="25.3" textLength="50.5" lengthAdjust="spacingAndGlyphs" stroke-width="1.0">GND</text>
<text transform="translate(263.3 710.5) rotate(-90)" x="0" y="0" text-anchor="middle" font-size="25.3" textLength="45.5" lengthAdjust="spacingAndGlyphs" stroke-width="1.0">VPU</text>
<text transform="translate(327.9 588.4) rotate(-90)" x="0" y="0" text-anchor="middle" font-size="15.5" textLength="18.5" lengthAdjust="spacingAndGlyphs" stroke-width="0.55">TC</text>
<text transform="translate(327.9 610.5) rotate(-90)" x="0" y="0" text-anchor="middle" font-size="15.5" textLength="13.5" lengthAdjust="spacingAndGlyphs" stroke-width="0.55">W</text>
<text transform="translate(327.9 633) rotate(-90)" x="0" y="0" text-anchor="middle" font-size="15.5" textLength="10.3" lengthAdjust="spacingAndGlyphs" stroke-width="0.55">C</text>
<text transform="translate(327.9 666) rotate(-90)" x="0" y="0" text-anchor="middle" font-size="15.5" textLength="40.5" lengthAdjust="spacingAndGlyphs" stroke-width="0.55">VSPV</text>
<text transform="translate(644.0 534) rotate(180)" x="0" y="0" text-anchor="middle" font-size="19.5" textLength="36" lengthAdjust="spacingAndGlyphs" stroke-width="0.85">GND</text>
<text transform="translate(645.5 571.5) rotate(180)" x="0" y="0" text-anchor="middle" font-size="19.5" textLength="33" lengthAdjust="spacingAndGlyphs" stroke-width="0.85">SDA</text>
<text transform="translate(645.5 608.5) rotate(180)" x="0" y="0" text-anchor="middle" font-size="19.5" textLength="33" lengthAdjust="spacingAndGlyphs" stroke-width="0.85">SCL</text>
<text transform="translate(650.0 646) rotate(180)" x="0" y="0" text-anchor="middle" font-size="20" textLength="22" lengthAdjust="spacingAndGlyphs" stroke-width="0.85">VS</text>
<text transform="translate(683.9000000000001 511.6) rotate(180)" x="0" y="0" text-anchor="middle" font-size="18.3" textLength="20.600000000000023" lengthAdjust="spacingAndGlyphs" stroke-width="0.85">A0</text>
<text transform="translate(683.6 670) rotate(180)" x="0" y="0" text-anchor="middle" font-size="18.3" textLength="21.200000000000045" lengthAdjust="spacingAndGlyphs" stroke-width="0.85">A0</text>
</g>
<g id="boxes">
<rect x="183.3" y="117" width="64.19999999999999" height="142.3" fill="#7c6a5c"/>
<rect x="191.8" y="125.8" width="46.599999999999994" height="125" fill="#f39a0e"/>
<rect x="213.40000000000003" y="141" width="3.4" height="9" rx="1.2" fill="#46dc1a"/>
<path d="M215.10000000000002 221.6 V237.6 M207.10000000000002 229.6 H223.10000000000002" stroke="#46dc1a" stroke-width="2.6" fill="none"/>
<text transform="translate(210.3 155.7) rotate(90)" x="0" y="0" font-family="'Liberation Sans', sans-serif" font-size="10.2" fill="#55da20" textLength="63.3" lengthAdjust="spacingAndGlyphs">Power Supply</text>
<rect x="256.3" y="117" width="63.69999999999999" height="142.3" fill="#7c6a5c"/>
<rect x="264.5" y="125.8" width="46.5" height="125" fill="#f39a0e"/>
<rect x="286.05" y="141" width="3.4" height="9" rx="1.2" fill="#46dc1a"/>
<path d="M287.75 221.6 V237.6 M279.75 229.6 H295.75" stroke="#46dc1a" stroke-width="2.6" fill="none"/>
<text transform="translate(284.35 174.2) rotate(90)" x="0" y="0" font-family="'Liberation Sans', sans-serif" font-size="11.3" fill="#55da20">load</text>
<rect x="360.8" y="117" width="63.69999999999999" height="142.3" fill="#7c6a5c"/>
<rect x="369.5" y="125.8" width="46.30000000000001" height="125" fill="#f39a0e"/>
<rect x="390.95" y="141" width="3.4" height="9" rx="1.2" fill="#46dc1a"/>
<path d="M392.65 221.6 V237.6 M384.65 229.6 H400.65" stroke="#46dc1a" stroke-width="2.6" fill="none"/>
<text transform="translate(387.84999999999997 155.7) rotate(90)" x="0" y="0" font-family="'Liberation Sans', sans-serif" font-size="10.2" fill="#55da20" textLength="63.3" lengthAdjust="spacingAndGlyphs">Power Supply</text>
<rect x="433" y="117" width="64" height="142.3" fill="#7c6a5c"/>
<rect x="442" y="125.8" width="46.30000000000001" height="125" fill="#f39a0e"/>
<rect x="463.45" y="141" width="3.4" height="9" rx="1.2" fill="#46dc1a"/>
<path d="M465.15 221.6 V237.6 M457.15 229.6 H473.15" stroke="#46dc1a" stroke-width="2.6" fill="none"/>
<text transform="translate(461.75 174.2) rotate(90)" x="0" y="0" font-family="'Liberation Sans', sans-serif" font-size="11.3" fill="#55da20">load</text>
<rect x="537.5" y="117" width="63.799999999999955" height="142.3" fill="#7c6a5c"/>
<rect x="546.3" y="125.8" width="46.200000000000045" height="125" fill="#f39a0e"/>
<rect x="567.6999999999999" y="141" width="3.4" height="9" rx="1.2" fill="#46dc1a"/>
<path d="M569.4 221.6 V237.6 M561.4 229.6 H577.4" stroke="#46dc1a" stroke-width="2.6" fill="none"/>
<text transform="translate(564.6 155.7) rotate(90)" x="0" y="0" font-family="'Liberation Sans', sans-serif" font-size="10.2" fill="#55da20" textLength="63.3" lengthAdjust="spacingAndGlyphs">Power Supply</text>
<rect x="610.5" y="117" width="63.299999999999955" height="142.3" fill="#7c6a5c"/>
<rect x="619.3" y="125.8" width="45.700000000000045" height="125" fill="#f39a0e"/>
<rect x="640.4499999999999" y="141" width="3.4" height="9" rx="1.2" fill="#46dc1a"/>
<path d="M642.15 221.6 V237.6 M634.15 229.6 H650.15" stroke="#46dc1a" stroke-width="2.6" fill="none"/>
<text transform="translate(638.75 174.2) rotate(90)" x="0" y="0" font-family="'Liberation Sans', sans-serif" font-size="11.3" fill="#55da20">load</text>
</g>
<g id="wires" fill="#fb0505">
<rect x="83" y="37" width="567" height="12.7"/>
<rect x="83" y="37" width="14" height="531.2"/>
<rect x="83" y="553.2" width="124.4" height="15"/>
<rect x="207.5" y="37" width="17.0" height="80.5"/>
<rect x="280" y="37" width="17.5" height="80.5"/>
<rect x="383.8" y="37" width="17.0" height="80.5"/>
<rect x="456.3" y="37" width="16.69999999999999" height="80.5"/>
<rect x="561.3" y="37" width="17.0" height="80.5"/>
<rect x="633.3" y="37" width="16.700000000000045" height="80.5"/>
<rect x="208" y="259" width="12.5" height="91.7"/>
<rect x="283" y="259" width="13" height="91.7"/>
<rect x="383" y="259" width="12" height="91.7"/>
<rect x="458.3" y="259" width="11.699999999999989" height="91.7"/>
<rect x="562.5" y="259" width="12.0" height="91.7"/>
<rect x="637.5" y="259" width="11.799999999999955" height="91.7"/>
</g>
</svg>
</body></html>
